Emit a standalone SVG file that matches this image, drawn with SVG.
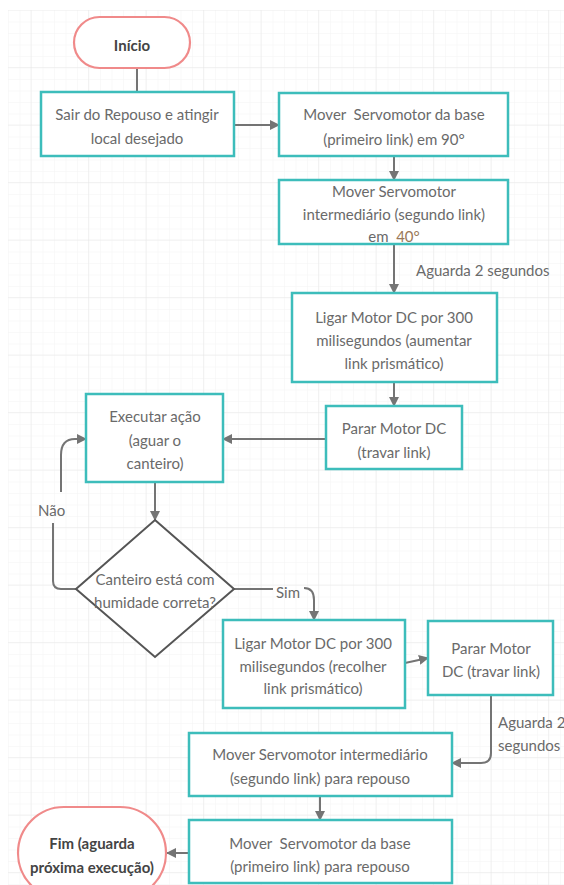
<svg xmlns="http://www.w3.org/2000/svg" width="564" height="885" viewBox="0 0 564 885">
<style>
.box{fill:#fff;stroke:#3dbdbb;stroke-width:2.5}
.term{fill:#fff;stroke:#f08a8a;stroke-width:2.2}
.dia{fill:#fff;stroke:#555;stroke-width:2}
.ln{fill:none;stroke:#747474;stroke-width:2}
.t{font-family:Lato,"Liberation Sans",sans-serif;font-size:15px;fill:#6a6a6a;text-anchor:middle;dominant-baseline:central}
.tl{font-family:Lato,"Liberation Sans",sans-serif;font-size:15px;fill:#6a6a6a;dominant-baseline:central}
.tt{font-family:Lato,"Liberation Sans",sans-serif;font-size:15px;fill:#444;text-anchor:middle;dominant-baseline:central;font-weight:bold}
</style>
<defs>
<marker id="ah" viewBox="0 0 10 10" refX="9" refY="5" markerWidth="10" markerHeight="10" markerUnits="userSpaceOnUse" orient="auto">
<path d="M0,0 L10,5 L0,10 Z" fill="#747474"/>
</marker>
<pattern id="gmin" x="8" y="10" width="11.5" height="11.5" patternUnits="userSpaceOnUse">
<path d="M0,0 H11.5 M0,0 V11.5" stroke="#f3f3f3" stroke-width="1" fill="none"/>
</pattern>
<pattern id="gmaj" x="30.5" y="9.5" width="57.5" height="57.5" patternUnits="userSpaceOnUse">
<path d="M0,0 H57.5 M0,0 V57.5" stroke="#e8e8e8" stroke-width="1" fill="none"/>
</pattern>
</defs>
<rect x="0" y="0" width="564" height="885" fill="#fff"/>
<rect x="8" y="10" width="556" height="875" fill="url(#gmin)"/>
<rect x="8" y="10" width="556" height="875" fill="url(#gmaj)"/>

<g id="connectors">
<path class="ln" d="M137,68 V92"/>
<path class="ln" d="M234,125 H279" marker-end="url(#ah)"/>
<path class="ln" d="M394,156 V180" marker-end="url(#ah)"/>
<path class="ln" d="M394,244 V293" marker-end="url(#ah)"/>
<text class="tl" x="416" y="270">Aguarda 2 segundos</text>
<path class="ln" d="M394,382 V406" marker-end="url(#ah)"/>
<path class="ln" d="M326,439 H223" marker-end="url(#ah)"/>
<path class="ln" d="M155,482 V520" marker-end="url(#ah)"/>
<path class="ln" d="M76,589 H61 Q53,589 53,581 V523"/>
<path class="ln" d="M61,492 V455 Q61,439 75,439 H86" marker-end="url(#ah)"/>
<text class="tl" x="38" y="510">Não</text>
<path class="ln" d="M234,589 H273"/>
<text class="tl" x="276" y="592">Sim</text>
<path class="ln" d="M304,588 Q314,588 314,600 V620" marker-end="url(#ah)"/>
<path class="ln" d="M405,663 L428,658" marker-end="url(#ah)"/>
<path class="ln" d="M491,695 V753 Q491,763 481,763 H452" marker-end="url(#ah)"/>
<text class="tl" x="498" y="722">Aguarda 2</text>
<text class="tl" x="498" y="745">segundos</text>
<path class="ln" d="M320,796 V820" marker-end="url(#ah)"/>
<path class="ln" d="M189,853 H167" marker-end="url(#ah)"/>
</g>

<g id="inicio">
<rect class="term" x="74" y="17" width="116" height="51" rx="25.5"/>
<text class="tt" x="132" y="45">Início</text>
</g>
<g id="sair">
<rect class="box" x="41" y="92" width="193" height="64"/>
<text class="t" x="137" y="114">Sair do Repouso e atingir</text>
<text class="t" x="137" y="138">local desejado</text>
</g>
<g id="base90">
<rect class="box" x="279" y="93" width="229" height="63"/>
<text class="t" x="394" y="114" xml:space="preserve">Mover  Servomotor da base</text>
<text class="t" x="394" y="139">(primeiro link) em 90°</text>
</g>
<g id="inter40">
<rect class="box" x="279" y="180" width="229" height="64"/>
<text class="t" x="394" y="191">Mover Servomotor</text>
<text class="t" x="394" y="214">intermediário (segundo link)</text>
<text class="t" x="394" y="236" xml:space="preserve">em  <tspan fill="#9a7858">40°</tspan></text>
</g>
<g id="ligar1">
<rect class="box" x="292" y="293" width="205" height="89"/>
<text class="t" x="394" y="317">Ligar Motor DC por 300</text>
<text class="t" x="394" y="340">milisegundos (aumentar</text>
<text class="t" x="394" y="363">link prismático)</text>
</g>
<g id="parar1">
<rect class="box" x="326" y="406" width="136" height="63"/>
<text class="t" x="394" y="428">Parar Motor DC</text>
<text class="t" x="394" y="452">(travar link)</text>
</g>
<g id="executar">
<rect class="box" x="86" y="394" width="137" height="88"/>
<text class="t" x="155" y="416">Executar ação</text>
<text class="t" x="155" y="440">(aguar o</text>
<text class="t" x="155" y="463">canteiro)</text>
</g>
<g id="decisao">
<path class="dia" d="M155,520 L234,589 L155,657 L76,589 Z"/>
<text class="t" x="155" y="579">Canteiro está com</text>
<text class="t" x="155" y="602">humidade correta?</text>
</g>
<g id="ligar2">
<rect class="box" x="223" y="620" width="182" height="88"/>
<text class="t" x="313" y="643">Ligar Motor DC por 300</text>
<text class="t" x="313" y="666">milisegundos (recolher</text>
<text class="t" x="313" y="688">link prismático)</text>
</g>
<g id="parar2">
<rect class="box" x="428" y="621" width="125" height="74"/>
<text class="t" x="491" y="648">Parar Motor</text>
<text class="t" x="491" y="671">DC (travar link)</text>
</g>
<g id="interrep">
<rect class="box" x="189" y="733" width="263" height="63"/>
<text class="t" x="320" y="754">Mover Servomotor intermediário</text>
<text class="t" x="320" y="778">(segundo link) para repouso</text>
</g>
<g id="baserep">
<rect class="box" x="189" y="820" width="263" height="63"/>
<text class="t" x="320" y="843" xml:space="preserve">Mover  Servomotor da base</text>
<text class="t" x="320" y="866">(primeiro link) para repouso</text>
</g>
<g id="fim">
<rect class="term" x="18" y="807" width="148" height="92" rx="46"/>
<text class="tt" x="92" y="843">Fim (aguarda</text>
<text class="tt" x="92" y="867">próxima execução)</text>
</g>
</svg>
